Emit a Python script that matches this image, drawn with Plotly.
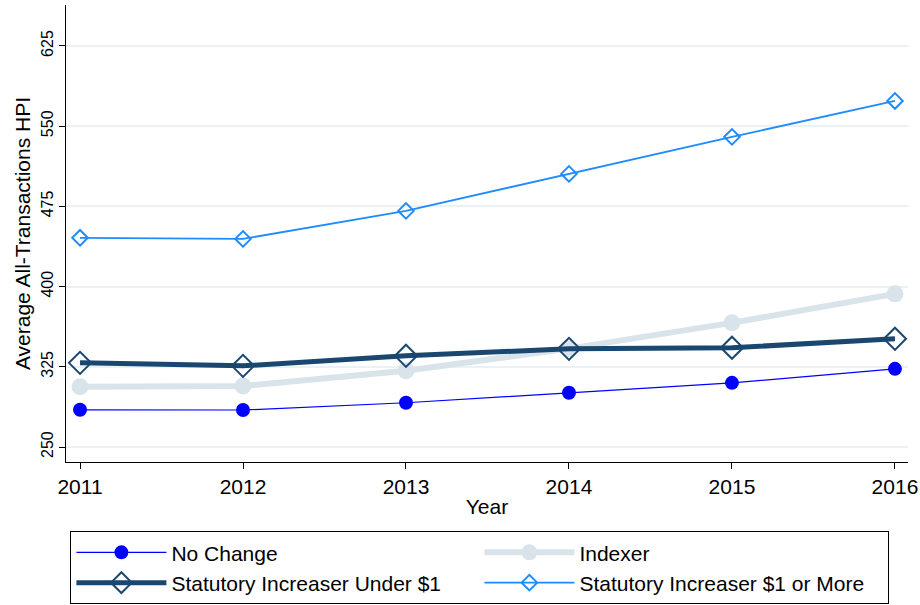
import plotly.graph_objects as go

# Average all-transactions HPI by year and state category
years = [2011, 2012, 2013, 2014, 2015, 2016]
no_change = [284.8, 284.6, 291.4, 300.7, 310.0, 323.1]
indexer = [306.3, 307.0, 321.3, 342.0, 366.1, 393.2]
under_1 = [328.7, 325.9, 335.3, 341.8, 342.8, 351.2]
over_1 = [445.6, 444.6, 470.8, 505.4, 540.0, 573.6]
y_ticks = [250, 325, 400, 475, 550, 625]

FONT = "Liberation Sans, Arial, sans-serif"

fig = go.Figure()

fig.add_trace(go.Scatter(
    x=years, y=no_change, name="No Change", mode="lines+markers",
    line=dict(color="#0000ff", width=1.2),
    marker=dict(symbol="circle", size=14, color="#0000ff"),
))
fig.add_trace(go.Scatter(
    x=years, y=indexer, name="Indexer", mode="lines+markers",
    line=dict(color="#d9e4ea", width=6),
    marker=dict(symbol="circle", size=17, color="#d9e4ea"),
))
fig.add_trace(go.Scatter(
    x=years, y=under_1, name="Statutory Increaser Under $1", mode="lines+markers",
    line=dict(color="#1a476f", width=5),
    marker=dict(symbol="diamond-open", size=17, color="#1a476f", line=dict(width=2)),
))
fig.add_trace(go.Scatter(
    x=years, y=over_1, name="Statutory Increaser $1 or More", mode="lines+markers",
    line=dict(color="#1e8cff", width=1.8),
    marker=dict(symbol="diamond-open", size=12, color="#1e8cff", line=dict(width=2)),
))

fig.update_layout(
    width=920, height=605,
    paper_bgcolor="white", plot_bgcolor="white",
    margin=dict(l=66, r=12, t=5, b=143, autoexpand=False),
    font=dict(family=FONT, size=21, color="#000000"),
    legend=dict(
        orientation="h", x=0.005, xanchor="left", y=-0.151, yanchor="top",
        entrywidth=303, entrywidthmode="pixels", itemwidth=90,
        bordercolor="#000000", borderwidth=1.2,
        font=dict(family=FONT, size=21), tracegroupgap=0,
    ),
    xaxis=dict(
        range=[2010.914, 2016.08], tickvals=years, automargin=False,
        showline=True, linecolor="#000000", linewidth=1.2,
        ticks="outside", ticklen=6, tickcolor="#000000",
        showgrid=False, zeroline=False,
        title=dict(text="Year", standoff=2, font=dict(size=21)),
        tickfont=dict(size=21),
    ),
    yaxis=dict(
        range=[236, 663.3], tickvals=y_ticks, tickangle=-90, automargin=False,
        showline=True, linecolor="#000000", linewidth=1.2,
        ticks="outside", ticklen=6, tickcolor="#000000",
        showgrid=True, gridcolor="#eaf2f3", gridwidth=2, zeroline=False,
        title=dict(text="Average All-Transactions HPI", standoff=2, font=dict(size=21)),
        tickfont=dict(size=16),
    ),
)

# the default page has an 8px body margin; drop it so the figure fills the window
fig.write_html("out.html", config={"displayModeBar": False},
               post_script="document.body.style.margin='0';")
